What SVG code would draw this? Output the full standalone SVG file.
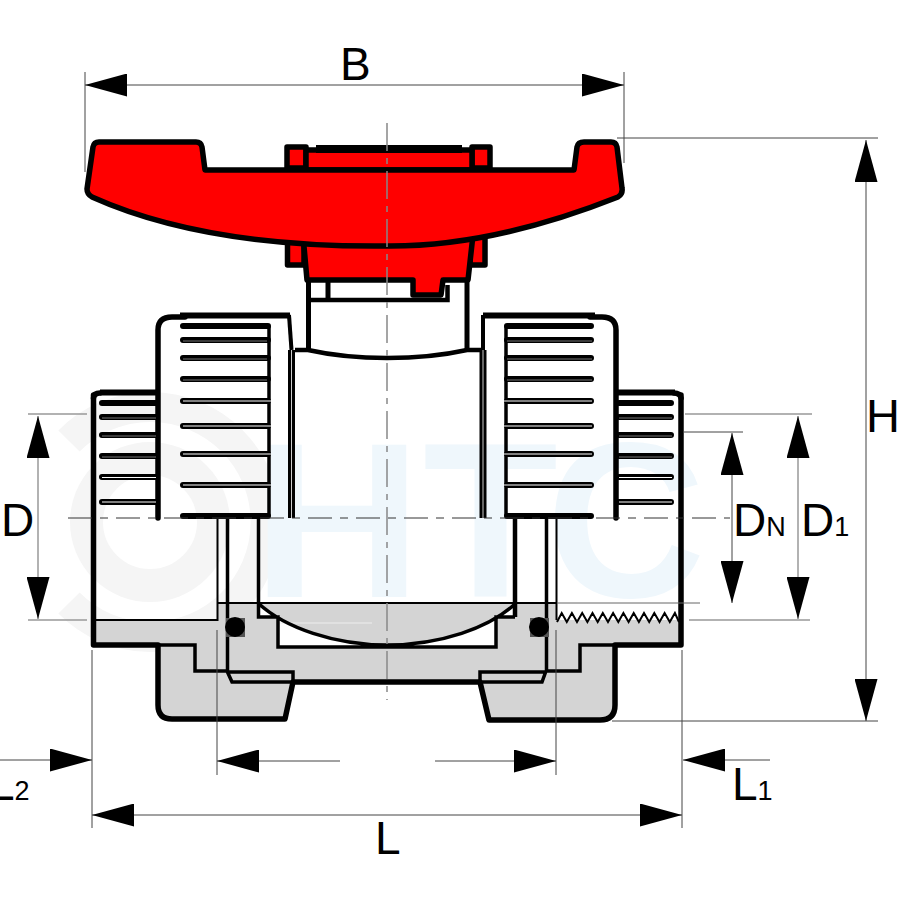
<svg xmlns="http://www.w3.org/2000/svg" width="900" height="900" viewBox="0 0 900 900">
<style>
.o{fill:none;stroke:#000;stroke-width:5.500;stroke-linejoin:round;stroke-linecap:round}
.f{fill:#f00;stroke:#000;stroke-width:5.500;stroke-linejoin:round}
.m{fill:none;stroke:#000;stroke-width:3.500;stroke-linejoin:miter;stroke-linecap:butt}
.r{fill:none;stroke:#000;stroke-width:6;stroke-linecap:round}
.cw{fill:none;stroke:#fff;stroke-width:1}
.cd{fill:none;stroke:#777;stroke-width:1}
.t{fill:none;stroke:#444;stroke-width:1}
.g{fill:none;stroke:#999;stroke-width:1.500}
.c1{fill:none;stroke:#888;stroke-width:1.500;stroke-dasharray:28 7 6 7}
.c2{fill:none;stroke:#333;stroke-width:1;stroke-dasharray:24 8 8 8}
.d{font-family:"Liberation Sans",Arial,sans-serif;font-size:46px;fill:#000}
.s{font-size:27px}
.w{font-family:"Liberation Sans",Arial,sans-serif;font-weight:bold;font-size:221px;fill:#eff7fc}
</style>
<defs>
<marker id="ah" viewBox="0 0 42 23" refX="42" refY="11.500" markerWidth="42" markerHeight="23" markerUnits="userSpaceOnUse" orient="auto-start-reverse"><path d="M0 0L42 11.500L0 23Z" fill="#000"/></marker>
</defs>
<g id="watermark">
<circle cx="150" cy="522" r="63.500" fill="none" stroke="#f5f5f5" stroke-width="33"/>
<path d="M69 441A115 115 0 1 1 69 603" fill="none" stroke="#f5f5f5" stroke-width="30"/>
<text class="w" x="252" y="597" textLength="170" lengthAdjust="spacingAndGlyphs">H</text>
<text class="w" x="423 546" y="597">TC</text>
</g>
<g id="handle">
<path class="f" d="M287 147H306V168H287ZM472 147H490V168H472Z"/>
<path class="f" d="M306 150H472V170H306Z"/>
<path d="M316 149H462" stroke="#000" stroke-width="8" fill="none"/>
<path class="f" d="M287.500 235V265H304V235ZM470 235V265H485V235Z"/>
<path class="f" d="M303 235L307 280H413V295H441L443 280H468L473 235Z"/>
<path class="f" d="M99 142H196Q201 142 202 147L205 170H574L577 147Q578 142 584 142H611Q616 142 617 147L622 188Q623 194 618 197C540 228 460 247 385 246C270 247 170 232 92 197Q87 194 87 189L93 147Q94 142 99 142Z"/>
</g>
<g id="stem">
<path class="m" style="stroke-width:5" d="M308.500 282V349M467 282V349M328 282V299"/>
<path class="m" style="stroke-width:4.500" d="M447.500 285V300H308M295 350H308C335 356 360 358 387 358C415 358 440 356 467 350H481"/>
</g>
<g id="gray-section">
<path d="M93 620H217V603H556V620H681V645H615V705Q614 720 600 720H489L480 682H293L285 719H170Q158 719 158 705V645H93Z" fill="#d4d4d4"/>
<path d="M258 603C285 628 335 645 387 645C440 645 490 628 516 603V617H496V647H278V617H258Z" fill="#fff"/>
<path d="M279 623H372" stroke="#eee" stroke-width="1"/>
</g>
<g id="section-lines">
<path class="o" d="M93.500 395V645H158V705Q158 719 172 719H285L293 682H480L489 720H600Q615 720 615 705V645H681V395"/>
<path class="m" d="M258.500 518V617H278V647H496V617H515M258 603C285 628 335 645 387 645C440 645 490 628 516 603"/>
<path d="M515 518V617" stroke="#000" stroke-width="4.500"/>
<path class="m" style="stroke-width:2" d="M217.500 518V620H95M556.500 518V620"/>
<path class="m" style="stroke-width:2" d="M217 603H556"/>
<path class="m" d="M160 645H195V671H227.500V518M227 671L232 682H293V672H227"/>
<path class="m" d="M614 645H580V671H546.500V518M546 671L542 682H480V672H546"/>
<path d="M557 622L561.700 613 566.800 622 571.900 613 577 622 582.200 613 587.400 622 592.500 613 597.700 622 602.800 613 608 622 613.100 613 618.300 622 623.400 613 628.600 622 633.700 613 638.900 622 644 613 649.200 622 654.300 613 659.500 622 664.600 613 669.800 622 674.900 613 679 622" fill="none" stroke="#000" stroke-width="2"/>
<path d="M557 603H700" stroke="#666" stroke-width="1"/>
</g>
<g id="o-rings">
<rect x="226" y="618" width="19" height="19" fill="#555"/>
<circle cx="235" cy="627" r="10" fill="#000"/>
<rect x="530" y="618" width="19" height="19" fill="#555"/>
<circle cx="539" cy="627" r="10" fill="#000"/>
</g>
<g id="left-nut-large">
<path class="o" d="M158 518V330Q158 317 172 317H185"/>
<path d="M180 315.500H290" stroke="#000" stroke-width="6"/>
<path class="m" style="stroke-width:4" d="M289 315L291.500 350"/>
<path d="M291.500 350V518" stroke="#000" stroke-width="7" fill="none"/>
<path d="M291.500 350V518" stroke="#fff" stroke-width="0.800" fill="none"/>
<path class="m" d="M269 326V516"/>
<path class="r" d="M183 326H268M183 340H268M183 358H268M183 379H268M183 401H268M183 426H268M183 454H268M183 485H268M183 516H268"/>
<path class="cd" d="M183 341H267M183 359H267M183 380H267"/>
<path class="cw" d="M183 401H271M183 426H271M183 454H271M183 485H271"/>
</g>
<g id="right-nut-large">
<path class="o" d="M616 518V330Q616 317 602 317H590"/>
<path d="M483 315.500H595" stroke="#000" stroke-width="6"/>
<path class="m" style="stroke-width:4" d="M483 315L483 350"/>
<path d="M483 350V518" stroke="#000" stroke-width="7" fill="none"/>
<path d="M483 350V518" stroke="#fff" stroke-width="0.800" fill="none"/>
<path class="m" d="M506 326V516"/>
<path class="r" d="M507 326H591M507 340H591M507 358H591M507 379H591M507 401H591M507 426H591M507 454H591M507 485H591M507 516H591"/>
<path class="cd" d="M507 341H592M507 359H592M507 380H592"/>
<path class="cw" d="M503 401H592M503 426H592M503 454H592M503 485H592"/>
</g>
<g id="left-nut-small">
<path class="o" d="M93.500 398Q94 393 100 393"/>
<path d="M100 392.500H158" stroke="#000" stroke-width="6"/>
<path class="r" d="M102 403H157M102 417H157M102 435H157M102 456H157M102 477H157M102 502H157"/>
<path class="cd" d="M102 418H156M102 436H156M102 457H156"/>
<path class="cw" d="M102 477.500H156M102 502H156"/>
</g>
<g id="right-nut-small">
<path class="o" d="M681 398Q680 393 674 393"/>
<path d="M617 392.500H675" stroke="#000" stroke-width="6"/>
<path class="r" d="M619 403H671M619 417H671M619 435H671M619 456H671M619 477H671M619 502H671"/>
<path class="cd" d="M619 418H672M619 436H672M619 457H672"/>
<path class="cw" d="M619 477.500H672M619 502H672"/>
</g>
<g id="centerlines">
<path class="c1" d="M387 123V700"/>
<path class="c2" d="M68 518H730"/>
</g>
<g id="dimensions">
<path class="t" d="M85 72V172M624 72V163M617 138H878M612 721H878M866 140V721M85 85H624"/>
<path class="g" d="M28 414H87M28 620H87M38 416V619M685 414H812M689 620H810M798 416V619"/>
<path class="t" d="M683 432H743M732 433V603"/>
<path class="t" d="M92 650V828M682 650V828M92 815H682M217 630V775M556 630V775M0 760H92M683 760H770M217 761H340M435 761H556"/>
<path fill="none" marker-start="url(#ah)" marker-end="url(#ah)" d="M85 85H624"/>
<path fill="none" marker-start="url(#ah)" marker-end="url(#ah)" d="M866 140V721"/>
<path fill="none" marker-start="url(#ah)" marker-end="url(#ah)" d="M38 416V619"/>
<path fill="none" marker-start="url(#ah)" marker-end="url(#ah)" d="M732 433V603"/>
<path fill="none" marker-start="url(#ah)" marker-end="url(#ah)" d="M798 416V619"/>
<path fill="none" marker-start="url(#ah)" marker-end="url(#ah)" d="M92 815H682"/>
<path fill="none" marker-end="url(#ah)" d="M30 760H92"/>
<path fill="none" marker-end="url(#ah)" d="M760 760H683"/>
<path fill="none" marker-end="url(#ah)" d="M300 761H217"/>
<path fill="none" marker-end="url(#ah)" d="M480 761H556"/>
<text class="d" x="340" y="80">B</text>
<text class="d" x="866" y="432" style="font-size:47px">H</text>
<text class="d" x="1" y="536">D</text>
<text class="d" x="733" y="536">D<tspan class="s">N</tspan></text>
<text class="d" x="801" y="536">D<tspan class="s">1</tspan></text>
<text class="d" x="375" y="854">L</text>
<text class="d" x="732" y="800">L<tspan class="s">1</tspan></text>
<text class="d" x="-11" y="800">L<tspan class="s">2</tspan></text>
</g>
</svg>
